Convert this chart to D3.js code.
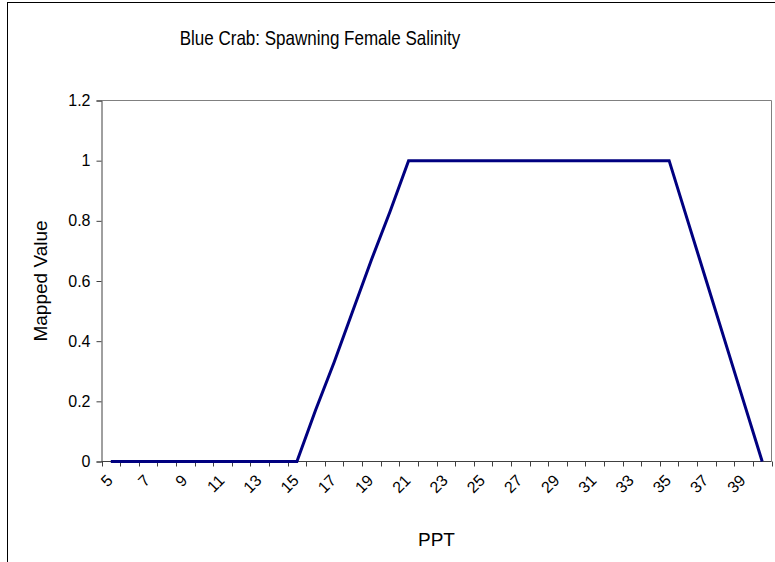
<!DOCTYPE html>
<html>
<head>
<meta charset="utf-8">
<script src="https://cdn.jsdelivr.net/npm/d3@7"></script>
<style>
  body { margin: 0; background: #fff; }
  svg { display: block; font-family: "Liberation Sans", Arial, sans-serif; }
</style>
</head>
<body>
<div class="salinity-chart"></div>
<script>
// salinity categories (PPT) and the mapped value
const salinity = [5, 6, 7, 8, 9, 10, 11, 12, 13, 14, 15, 16, 17, 18, 19, 20, 21, 22,
  23, 24, 25, 26, 27, 28, 29, 30, 31, 32, 33, 34, 35, 36, 37, 38, 39, 40];
const mappedValue = [0, 0, 0, 0, 0, 0, 0, 0, 0, 0, 0, 0.17, 0.33, 0.5, 0.67, 0.83, 1, 1,
  1, 1, 1, 1, 1, 1, 1, 1, 1, 1, 1, 1, 1, 0.8, 0.6, 0.4, 0.2, 0];
const xTickLabels = [5, 7, 9, 11, 13, 15, 17, 19, 21, 23, 25, 27, 29, 31, 33, 35, 37, 39];
const yTicks = [0, 0.2, 0.4, 0.6, 0.8, 1, 1.2];

const width = 775;
const height = 562;
const plot = { left: 101.5, right: 771.5, top: 100.5, bottom: 461.5 };
const fontFamily = '"Liberation Sans", Arial, sans-serif';

const svg = d3.select('.salinity-chart')
  .append('svg')
  .attr('width', width)
  .attr('height', height);

// outer chart frame (runs off the right and bottom edge like the original)
svg.append('rect')
  .attr('x', 7.5).attr('y', 2.5)
  .attr('width', 800).attr('height', 600)
  .attr('fill', '#fff')
  .attr('stroke', '#000')
  .attr('stroke-width', 1);

const xScale = d3.scaleBand()
  .domain(salinity)
  .range([plot.left, plot.right])
  .paddingInner(0)
  .paddingOuter(0);

const yScale = d3.scaleLinear()
  .domain([0, 1.2])
  .range([plot.bottom, plot.top]);

// plot area border (top and right in gray)
svg.append('path')
  .attr('d', `M${plot.left},${plot.top}H${plot.right}V${plot.bottom}`)
  .attr('fill', 'none')
  .attr('stroke', '#808080');

// y axis
const yAxis = svg.append('g')
  .attr('transform', `translate(${plot.left},0)`)
  .call(d3.axisLeft(yScale).tickValues(yTicks).tickSize(5).tickPadding(6).tickFormat(d3.format('')));
yAxis.attr('font-size', null).attr('font-family', null);
yAxis.select('.domain').attr('stroke', '#404040');
yAxis.selectAll('.tick line').attr('stroke', '#404040');
yAxis.selectAll('.tick text')
  .style('font-size', '16px')
  .style('font-family', fontFamily)
  .attr('fill', '#000');

// x axis: ticks sit between categories, labels on every other category
const xAxis = svg.append('g');
xAxis.append('line')
  .attr('x1', plot.left).attr('x2', plot.right)
  .attr('y1', plot.bottom).attr('y2', plot.bottom)
  .attr('stroke', '#404040');
const boundaries = salinity.map(d => xScale(d)).concat([xScale.range()[1]]);
xAxis.selectAll('.xtick')
  .data(boundaries)
  .enter()
  .append('line')
  .attr('class', 'xtick')
  .attr('x1', d => Math.round(d) + 0.5).attr('x2', d => Math.round(d) + 0.5)
  .attr('y1', plot.bottom).attr('y2', plot.bottom + 5)
  .attr('stroke', '#404040');
xAxis.selectAll('.xlabel')
  .data(xTickLabels)
  .enter()
  .append('text')
  .attr('class', 'xlabel')
  .attr('transform', d => `translate(${xScale(d) + xScale.bandwidth() / 2 - 1},${plot.bottom + 16}) rotate(-45)`)
  .attr('text-anchor', 'end')
  .attr('dy', '0.35em')
  .style('font-size', '16px')
  .text(d => d);

// the line
const line = d3.line()
  .x((d, i) => xScale(salinity[i]) + xScale.bandwidth() / 2)
  .y(d => yScale(d));

svg.append('path')
  .datum(mappedValue)
  .attr('d', line)
  .attr('fill', 'none')
  .attr('stroke', '#000080')
  .attr('stroke-width', 3)
  .attr('stroke-linejoin', 'miter');

// titles
svg.append('text')
  .attr('transform', 'translate(320,45) scale(0.81,1)')
  .attr('text-anchor', 'middle')
  .style('font-size', '21px')
  .text('Blue Crab: Spawning Female Salinity');

svg.append('text')
  .attr('x', (plot.left + plot.right) / 2).attr('y', 546)
  .attr('text-anchor', 'middle')
  .style('font-size', '19px')
  .text('PPT');

svg.append('text')
  .attr('transform', `translate(47,${(plot.top + plot.bottom) / 2}) rotate(-90)`)
  .attr('text-anchor', 'middle')
  .style('font-size', '19px')
  .text('Mapped Value');
</script>
</body>
</html>
